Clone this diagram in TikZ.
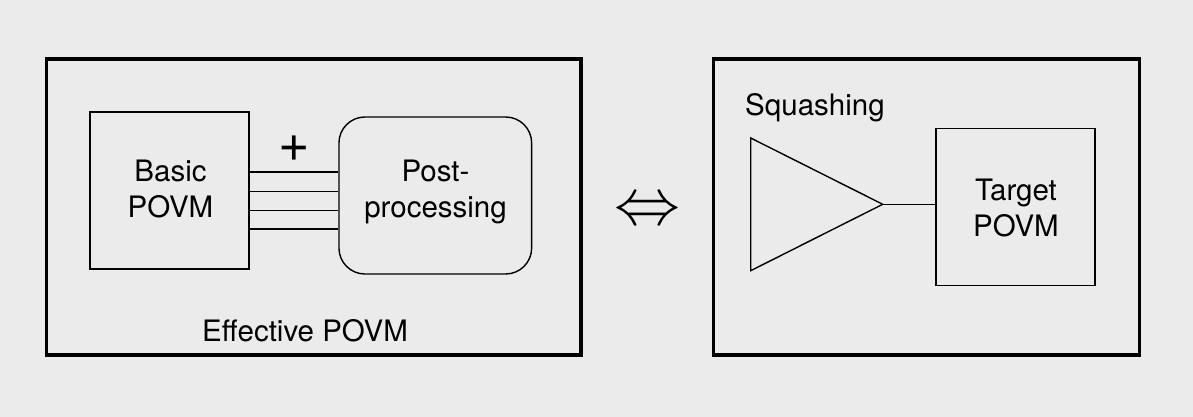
\documentclass[tikz,border=0pt]{standalone}
\usepackage{fontspec}
\setmainfont{TeX Gyre Heros}
\definecolor{bggray}{HTML}{EBEBEB}
\tikzset{
  frame/.style={draw=black, line width=3.3pt},
  block/.style={draw=black, line width=1.4pt, minimum width=159pt, minimum height=157pt, inner sep=0pt},
  roundblock/.style={block, rounded corners=26pt, minimum width=192.7pt},
  wire/.style={draw=black, line width=1.4pt},
  txt/.style={inner sep=0pt, font=\fontsize{29.5}{35.7}\selectfont, align=center}
}
\begin{document}
\begin{tikzpicture}[x=1pt, y=-1pt]
  % canvas
  \fill[bggray] (0,0) rectangle (1193,417);
  \useasboundingbox (0,0) rectangle (1193,417);

  % outer frames
  \draw[frame] (46.7,59) rectangle (581,355);
  \draw[frame] (713.3,59) rectangle (1139.3,355);

  % left frame: basic POVM feeding post-processing
  \node[block] (basic) at (169.5,190.4) {};
  \node[roundblock] (post) at (435.3,195.5) {};
  \foreach \yy in {172,191.3,210.3,229} {
    \draw[wire] (basic.east |- 0,\yy) -- (post.west |- 0,\yy);
  }
  \node[txt] (basictext) at (170.5,188.9) {Basic\\POVM};
  \node[txt] (posttext) at (435.5,192) {Post-\\processing};
  \node[inner sep=0pt, font=\fontsize{54}{54}\selectfont] (plus) at (294.7,148.8) {+};
  \node[txt, anchor=base] (effective) at (305,341.7) {Effective POVM};

  % equivalence sign
  \node[inner sep=0pt, scale=6.6] (equiv) at (647.5,212) {$\Leftrightarrow$};

  % right frame: squashing map and target POVM
  \coordinate (tip) at (882.7,204.3);
  \draw[wire, line join=miter] (750.7,138) -- (tip) -- (750.7,270.7) -- cycle;
  \node[block] (target) at (1015.4,207.2) {};
  \draw[wire] (tip) -- (target.west |- tip);
  \node[txt] (targettext) at (1016,208.1) {Target\\POVM};
  \node[txt, anchor=base west] (squash) at (745,115.7) {Squashing};
\end{tikzpicture}
\end{document}
